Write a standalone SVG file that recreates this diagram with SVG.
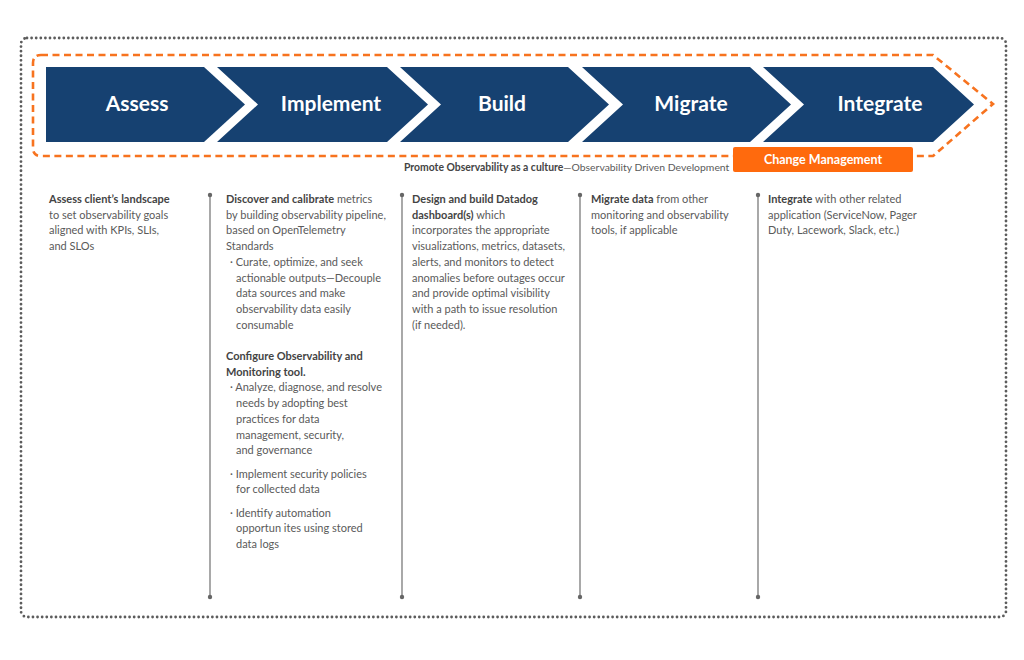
<svg xmlns="http://www.w3.org/2000/svg" width="1024" height="660" viewBox="0 0 1024 660">
<style>
.chev{fill:#164171}
.lbl{font-family:Lato,"Open Sans",sans-serif;font-weight:700;font-size:21px;fill:#fff;text-anchor:middle}
.t{font-family:Lato,"Open Sans",sans-serif;font-size:11px;fill:#5a5a5a}
.b{font-weight:700;fill:#444}
.vl{stroke:#7a7a7a;stroke-width:1.3}
.dot{fill:#666}
</style>
<rect x="0" y="0" width="1024" height="660" fill="#fff"/>
<g id="outer-border">
<rect x="21" y="38" width="985" height="579" rx="6" fill="none" stroke="#5c5c5c" stroke-width="2.8" stroke-linecap="round" stroke-dasharray="0 4.6"/>
</g>
<g id="culture-loop">
<path d="M41 55 H933 L993 104 L933 156 H41 Q33 156 33 148 V63 Q33 55 41 55 Z" fill="none" stroke="#f7731f" stroke-width="2.6" stroke-dasharray="7 4.5"/>
</g>
<g id="assess"><polygon class="chev" points="46,67 204,67 245,104.5 204,142 46,142"/><text class="lbl" x="137" y="111">Assess</text></g>
<g id="implement"><polygon class="chev" points="217,67 387,67 428,104.5 387,142 217,142 258,104.5"/><text class="lbl" x="331" y="111">Implement</text></g>
<g id="build"><polygon class="chev" points="400,67 568,67 609,104.5 568,142 400,142 441,104.5"/><text class="lbl" x="502" y="111">Build</text></g>
<g id="migrate"><polygon class="chev" points="582,67 750,67 791,104.5 750,142 582,142 623,104.5"/><text class="lbl" x="691" y="111">Migrate</text></g>
<g id="integrate"><polygon class="chev" points="763,67 933,67 974,104.5 933,142 763,142 804,104.5"/><text class="lbl" x="880" y="111">Integrate</text></g>
<g id="change-management">
<rect x="733" y="147" width="180" height="25" rx="2" fill="#ff6a0d"/>
<text x="823" y="164" font-family="Lato,'Open Sans',sans-serif" font-weight="700" font-size="12.5" fill="#fff" text-anchor="middle">Change Management</text>
</g>
<g id="culture-caption">
<text class="t" x="404" y="171" style="font-size:10.4px"><tspan class="b">Promote Observability as a culture</tspan>—Observability Driven Development</text>
</g>
<g id="connectors">
<line class="vl" x1="210" y1="195" x2="210" y2="597"/><circle class="dot" cx="210" cy="195" r="2.2"/><circle class="dot" cx="210" cy="597" r="2.2"/>
<line class="vl" x1="402" y1="195" x2="402" y2="597"/><circle class="dot" cx="402" cy="195" r="2.2"/><circle class="dot" cx="402" cy="597" r="2.2"/>
<line class="vl" x1="580" y1="195" x2="580" y2="597"/><circle class="dot" cx="580" cy="195" r="2.2"/><circle class="dot" cx="580" cy="597" r="2.2"/>
<line class="vl" x1="758" y1="195" x2="758" y2="597"/><circle class="dot" cx="758" cy="195" r="2.2"/><circle class="dot" cx="758" cy="597" r="2.2"/>
</g>
<g id="col-assess" class="t">
<text x="49" y="203"><tspan class="b">Assess client’s landscape</tspan></text>
<text x="49" y="218.5">to set observability goals</text>
<text x="49" y="234">aligned with KPIs, SLIs,</text>
<text x="49" y="249.5">and SLOs</text>
</g>
<g id="col-implement" class="t">
<text x="226" y="203"><tspan class="b">Discover and calibrate</tspan> metrics</text>
<text x="226" y="218.7">by building observability pipeline,</text>
<text x="226" y="234.4">based on OpenTelemetry</text>
<text x="226" y="250.1">Standards</text>
<text x="230" y="265.8">· Curate, optimize, and seek</text>
<text x="236" y="281.5">actionable outputs—Decouple</text>
<text x="236" y="297.2">data sources and make</text>
<text x="236" y="312.9">observability data easily</text>
<text x="236" y="328.6">consumable</text>
<text x="226" y="360"><tspan class="b">Configure Observability and</tspan></text>
<text x="226" y="375.7"><tspan class="b">Monitoring tool.</tspan></text>
<text x="230" y="391.4">· Analyze, diagnose, and resolve</text>
<text x="236" y="407.1">needs by adopting best</text>
<text x="236" y="422.8">practices for data</text>
<text x="236" y="438.5">management, security,</text>
<text x="236" y="454.2">and governance</text>
<text x="230" y="477.5">· Implement security policies</text>
<text x="236" y="493.2">for collected data</text>
<text x="230" y="516.5">· Identify automation</text>
<text x="236" y="532.2">opportun ites using stored</text>
<text x="236" y="547.9">data logs</text>
</g>
<g id="col-build" class="t">
<text x="412" y="203"><tspan class="b">Design and build Datadog</tspan></text>
<text x="412" y="218.7"><tspan class="b">dashboard(s)</tspan> which</text>
<text x="412" y="234.4">incorporates the appropriate</text>
<text x="412" y="250.1">visualizations, metrics, datasets,</text>
<text x="412" y="265.8">alerts, and monitors to detect</text>
<text x="412" y="281.5">anomalies before outages occur</text>
<text x="412" y="297.2">and provide optimal visibility</text>
<text x="412" y="312.9">with a path to issue resolution</text>
<text x="412" y="328.6">(if needed).</text>
</g>
<g id="col-migrate" class="t">
<text x="591" y="203"><tspan class="b">Migrate data</tspan> from other</text>
<text x="591" y="218.7">monitoring and observability</text>
<text x="591" y="234.4">tools, if applicable</text>
</g>
<g id="col-integrate" class="t">
<text x="768" y="203"><tspan class="b">Integrate</tspan> with other related</text>
<text x="768" y="218.7">application (ServiceNow, Pager</text>
<text x="768" y="234.4">Duty, Lacework, Slack, etc.)</text>
</g>
</svg>
